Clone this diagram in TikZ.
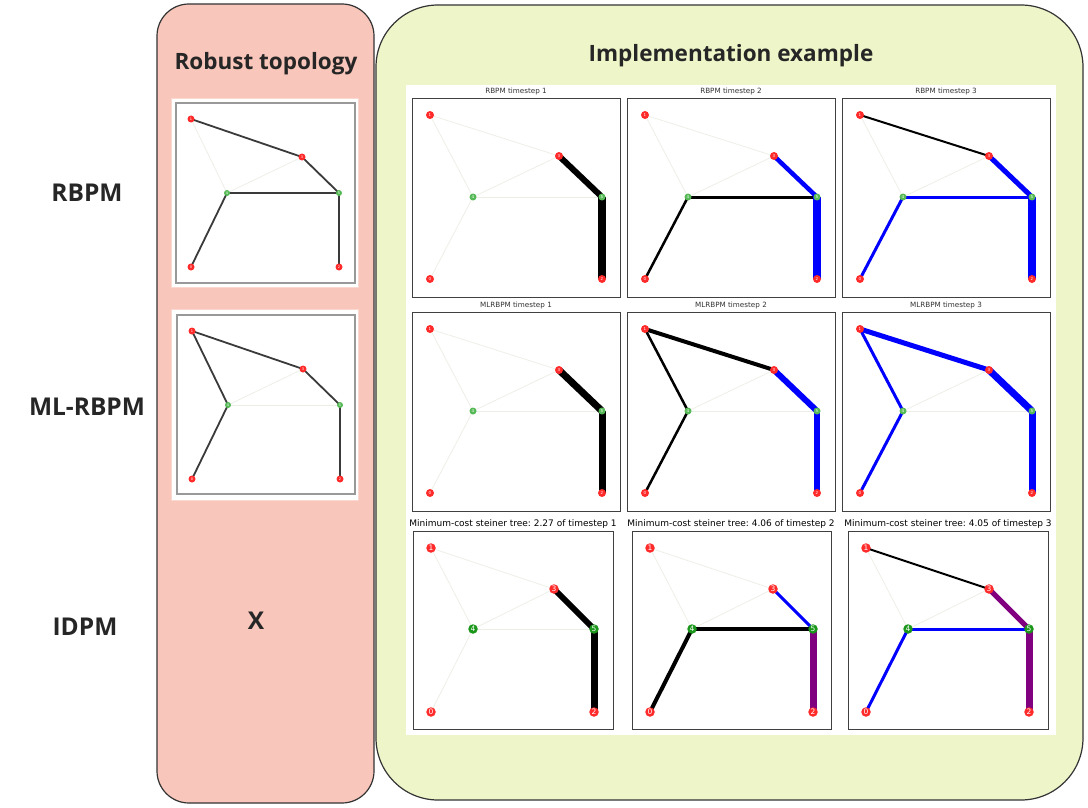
\documentclass[tikz,border=0pt]{standalone}
\usepackage{fontspec}
\setmainfont{Open Sans}
\newfontfamily\djv{DejaVu Sans}
\frenchspacing
\definecolor{pinkfill}{HTML}{F8C6BA}
\definecolor{greenfill}{HTML}{EEF6C9}
\definecolor{boxline}{HTML}{333333}
\definecolor{nred}{HTML}{FF2A2A}
\definecolor{ngreen}{HTML}{55B955}
\definecolor{ngreenD}{HTML}{1A961A}
\definecolor{faintc}{HTML}{EBEFE6}
\definecolor{rbline}{HTML}{3A3A3A}
\definecolor{purp}{HTML}{800080}
\pgfdeclarelayer{bgl}
\pgfdeclarelayer{edges}
\pgfsetlayers{bgl,edges,main}
\tikzset{
  bigbox/.style={draw=boxline, line width=1.2pt},
  headtxt/.style={font=\fontsize{22.5}{26}\selectfont\bfseries, text=black!85},
  sidetxt/.style={font=\fontsize{24.5}{28}\selectfont\bfseries, text=black!85},
  axframe/.style={draw=black!75, line width=0.8pt, fill=white},
  robframe/.style={draw=black!40, line width=1.5pt, fill=white},
  ttl/.style={font=\djv\fontsize{7.2}{8}\selectfont, text=black!80},
  ttlB/.style={font=\djv\fontsize{9}{10}\selectfont, text=black},
  faint/.style={draw=faintc, line width=0.7pt},
  bk/.style={draw=black, line width=#1},
  bl/.style={draw=blue, line width=#1},
  pu/.style={draw=purp, line width=#1},
  rb/.style={draw=rbline, line width=1.8pt},
  rnS/.style={circle, fill=nred, inner sep=0pt, minimum size=8pt, text=white, font=\djv\fontsize{4}{4}\selectfont},
  gnS/.style={circle, fill=ngreen, inner sep=0pt, minimum size=7pt, text=white, font=\djv\fontsize{4}{4}\selectfont},
  rnB/.style={circle, fill=nred, inner sep=0pt, minimum size=9.5pt, text=white, font=\djv\fontsize{7.5}{8}\selectfont},
  gnB/.style={circle, fill=ngreenD, inner sep=0pt, minimum size=9.5pt, text=white, font=\djv\fontsize{7.5}{8}\selectfont},
  rnR/.style={circle, fill=nred, inner sep=0pt, minimum size=7pt, text=white, font=\djv\fontsize{3.5}{4}\selectfont},
  gnR/.style={circle, fill=ngreen, inner sep=0pt, minimum size=6pt, text=white, font=\djv\fontsize{3.5}{4}\selectfont},
}
% layout for rows 1-2: prefix, ox, oy
\newcommand\layA[3]{%
  \node[rnS] (#1-1) at (#2+18,#3+17) {1};
  \node[rnS] (#1-3) at (#2+147,#3+58) {3};
  \node[gnS] (#1-4) at (#2+61,#3+99) {4};
  \node[gnS] (#1-5) at (#2+190,#3+99) {5};
  \node[rnS] (#1-0) at (#2+18,#3+181) {0};
  \node[rnS] (#1-2) at (#2+190,#3+181) {2};
}
% layout for row 3
\newcommand\layB[3]{%
  \node[rnB] (#1-1) at (#2+18,#3+17) {1};
  \node[rnB] (#1-3) at (#2+141,#3+58) {3};
  \node[gnB] (#1-4) at (#2+60,#3+98) {4};
  \node[gnB] (#1-5) at (#2+181,#3+98) {5};
  \node[rnB] (#1-0) at (#2+18,#3+181) {0};
  \node[rnB] (#1-2) at (#2+181,#3+181) {2};
}
% layout for robust topology
\newcommand\layC[3]{%
  \node[rnR] (#1-1) at (#2+15,#3+16) {1};
  \node[rnR] (#1-3) at (#2+126,#3+54) {3};
  \node[gnR] (#1-4) at (#2+51,#3+90) {4};
  \node[gnR] (#1-5) at (#2+163,#3+90) {5};
  \node[rnR] (#1-0) at (#2+15,#3+164) {0};
  \node[rnR] (#1-2) at (#2+163,#3+164) {2};
}
\newcommand\ed[4]{\draw[#4] (#1-#2.center) -- (#1-#3.center);}
\begin{document}
\begin{tikzpicture}[x=1pt,y=-1pt]
\useasboundingbox (0,0) rectangle (1088,808);
\begin{pgfonlayer}{bgl}
  \fill[white] (0,0) rectangle (1088,808);
  \draw[bigbox, fill=pinkfill, rounded corners=32pt] (157,4) rectangle (374,803);
  \draw[bigbox, fill=greenfill, rounded corners=62pt] (376,5) rectangle (1083,800);
  \fill[white] (406,85) rectangle (1056,735);
  \draw[draw=pinkfill!70!white, fill=white, line width=0.6pt] (171,98) rectangle (358,287);
  \draw[draw=pinkfill!70!white, fill=white, line width=0.6pt] (171,309) rectangle (358,500);
  \draw[robframe] (176,103) rectangle (355,283);
  \draw[robframe] (177,315) rectangle (355,494);
  \foreach \ox in {412,627,842} {
    \draw[axframe] (\ox,98) rectangle (\ox+208,297);
    \draw[axframe] (\ox,312) rectangle (\ox+208,511);
  }
  \draw[axframe] (413,531) rectangle (613,729);
  \draw[axframe] (632,531) rectangle (831,729);
  \draw[axframe] (848,531) rectangle (1048,729);
\end{pgfonlayer}

% headings
\node[headtxt] (hrob) at (266,64) {Robust topology};
\node[headtxt] (himp) at (731,56) {Implementation example};
\node[sidetxt] (lrb) at (87,193) {RBPM};
\node[sidetxt] (lml) at (87,407) {ML-RBPM};
\node[sidetxt] (lid) at (85,627) {IDPM};
\node[sidetxt] (lx) at (256,621) {X};

% panel titles
\node[ttl] (t11) at (516,92) {RBPM timestep 1};
\node[ttl] (t12) at (731,92) {RBPM timestep 2};
\node[ttl] (t13) at (946,92) {RBPM timestep 3};
\node[ttl] (t21) at (516,306) {MLRBPM timestep 1};
\node[ttl] (t22) at (731,306) {MLRBPM timestep 2};
\node[ttl] (t23) at (946,306) {MLRBPM timestep 3};
\node[ttlB] (t31) at (513,524) {Minimum-cost steiner tree: 2.27 of timestep 1};
\node[ttlB] (t32) at (731,524) {Minimum-cost steiner tree: 4.06 of timestep 2};
\node[ttlB] (t33) at (948,524) {Minimum-cost steiner tree: 4.05 of timestep 3};

% nodes
\layC{ra}{176}{103}
\layC{rc}{177}{315}
\layA{a}{412}{98}
\layA{b}{627}{98}
\layA{c}{842}{98}
\layA{d}{412}{312}
\layA{e}{627}{312}
\layA{f}{842}{312}
\layB{g}{413}{531}
\layB{h}{632}{531}
\layB{k}{848}{531}

\begin{pgfonlayer}{edges}
  % robust RBPM
  \ed{ra}{1}{4}{faint} \ed{ra}{4}{3}{faint}
  \ed{ra}{1}{3}{rb} \ed{ra}{3}{5}{rb} \ed{ra}{4}{5}{rb} \ed{ra}{4}{0}{rb} \ed{ra}{5}{2}{rb}
  % robust ML-RBPM
  \ed{rc}{4}{3}{faint} \ed{rc}{4}{5}{faint}
  \ed{rc}{1}{3}{rb} \ed{rc}{1}{4}{rb} \ed{rc}{4}{0}{rb} \ed{rc}{3}{5}{rb} \ed{rc}{5}{2}{rb}
  % RBPM t1
  \ed{a}{1}{3}{faint} \ed{a}{1}{4}{faint} \ed{a}{4}{3}{faint} \ed{a}{4}{5}{faint} \ed{a}{4}{0}{faint}
  \ed{a}{3}{5}{bk=6pt} \ed{a}{5}{2}{bk=8pt}
  % RBPM t2
  \ed{b}{1}{3}{faint} \ed{b}{1}{4}{faint} \ed{b}{4}{3}{faint}
  \ed{b}{4}{5}{bk=3pt} \ed{b}{4}{0}{bk=2.5pt} \ed{b}{3}{5}{bl=4.5pt} \ed{b}{5}{2}{bl=8pt}
  % RBPM t3
  \ed{c}{1}{4}{faint} \ed{c}{4}{3}{faint}
  \ed{c}{1}{3}{bk=2pt} \ed{c}{3}{5}{bl=5pt} \ed{c}{4}{5}{bl=3pt} \ed{c}{4}{0}{bl=3pt} \ed{c}{5}{2}{bl=8pt}
  % MLRBPM t1
  \ed{d}{1}{3}{faint} \ed{d}{1}{4}{faint} \ed{d}{4}{3}{faint} \ed{d}{4}{5}{faint} \ed{d}{4}{0}{faint}
  \ed{d}{3}{5}{bk=7pt} \ed{d}{5}{2}{bk=7pt}
  % MLRBPM t2
  \ed{e}{4}{3}{faint} \ed{e}{4}{5}{faint}
  \ed{e}{1}{3}{bk=4pt} \ed{e}{1}{4}{bk=2.5pt} \ed{e}{4}{0}{bk=2.5pt} \ed{e}{3}{5}{bl=6pt} \ed{e}{5}{2}{bl=6pt}
  % MLRBPM t3
  \ed{f}{4}{3}{faint} \ed{f}{4}{5}{faint}
  \ed{f}{1}{3}{bl=5pt} \ed{f}{1}{4}{bl=3pt} \ed{f}{4}{0}{bl=3pt} \ed{f}{3}{5}{bl=7pt} \ed{f}{5}{2}{bl=7pt}
  % Steiner t1
  \ed{g}{1}{3}{faint} \ed{g}{1}{4}{faint} \ed{g}{4}{3}{faint} \ed{g}{4}{5}{faint} \ed{g}{4}{0}{faint}
  \ed{g}{3}{5}{bk=6pt} \ed{g}{5}{2}{bk=7pt}
  % Steiner t2
  \ed{h}{1}{3}{faint} \ed{h}{1}{4}{faint} \ed{h}{4}{3}{faint}
  \ed{h}{4}{5}{bk=4pt} \ed{h}{4}{0}{bk=4pt} \ed{h}{3}{5}{bl=3pt} \ed{h}{5}{2}{pu=7pt}
  % Steiner t3
  \ed{k}{1}{4}{faint} \ed{k}{4}{3}{faint}
  \ed{k}{1}{3}{bk=2pt} \ed{k}{4}{5}{bl=3pt} \ed{k}{4}{0}{bl=3pt} \ed{k}{3}{5}{pu=5pt} \ed{k}{5}{2}{pu=7pt}
\end{pgfonlayer}
\end{tikzpicture}
\end{document}
